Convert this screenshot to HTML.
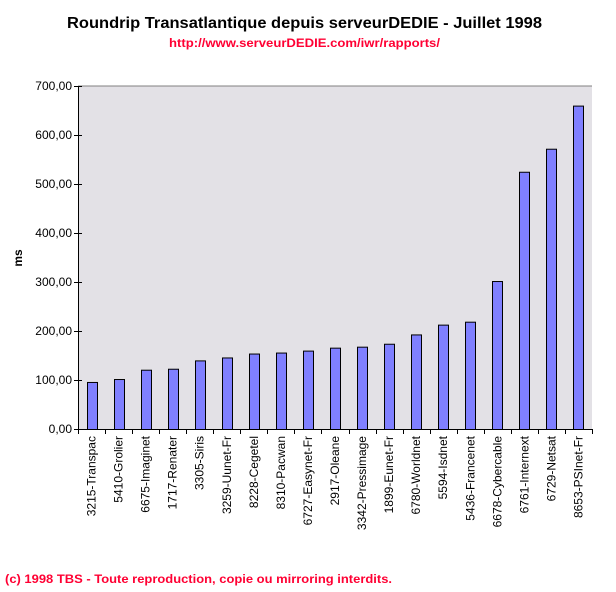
<!DOCTYPE html>
<html><head><meta charset="utf-8"><style>
html,body{margin:0;padding:0;background:#fff;}
svg{display:block;font-family:"Liberation Sans",Arial,sans-serif;}
</style></head><body>
<svg width="616" height="592" viewBox="0 0 616 592">
<text x="67" y="28" font-size="16" font-weight="bold" textLength="475" lengthAdjust="spacingAndGlyphs">Roundrip Transatlantique depuis serveurDEDIE - Juillet 1998</text>
<text x="169" y="47" font-size="12" font-weight="bold" fill="#ff0033" textLength="271" lengthAdjust="spacingAndGlyphs">http://www.serveurDEDIE.com/iwr/rapports/</text>
<rect x="78" y="86" width="514" height="343" fill="#e3e1e6"/>
<line x1="78" y1="86" x2="592" y2="86" stroke="#808080"/>
<line x1="78.5" y1="86" x2="78.5" y2="430" stroke="#000"/>
<line x1="78" y1="429.5" x2="592" y2="429.5" stroke="#000"/>
<g font-size="12" text-anchor="end" id="yl"></g>
<g id="bars"></g>
<text transform="translate(22,258) rotate(-90)" font-size="12" font-weight="bold" text-anchor="middle">ms</text>
<text x="5" y="583" font-size="12" font-weight="bold" fill="#ff0033" textLength="387" lengthAdjust="spacingAndGlyphs">(c) 1998 TBS - Toute reproduction, copie ou mirroring interdits.</text>
</svg>
<script>
var ns="http://www.w3.org/2000/svg",svg=document.querySelector("svg");
function el(n,a,t){var e=document.createElementNS(ns,n);for(var k in a)e.setAttribute(k,a[k]);if(t)e.textContent=t;svg.appendChild(e);return e;}
for(var i=0;i<=7;i++){var y=429-i*49;
el("line",{x1:74,y1:y+.5,x2:82,y2:y+.5,stroke:"#000"});
el("text",{x:72,y:y+4,"font-size":12,"text-anchor":"end"},(i*100)+",00");}
var d=[["3215-Transpac",96],["5410-Grolier",102],["6675-Imaginet",121],["1717-Renater",123],["3305-Siris",140],["3259-Uunet-Fr",146],["8228-Cegetel",154],["8310-Pacwan",156],["6727-Easynet-Fr",160],["2917-Oleane",166],["3342-Pressimage",168],["1899-Eunet-Fr",174],["6780-Worldnet",193],["5594-Isdnet",213],["5436-Francenet",219],["6678-Cybercable",302],["6761-Internext",525],["6729-Netsat",572],["8653-PSInet-Fr",660]];
var w=514/19;
for(var i=0;i<19;i++){var cx=78+w*(i+.5),h=d[i][1]*0.49;
el("rect",{x:Math.round(cx-5)+.5,y:429-h+.5,width:10,height:h,fill:"#8080ff",stroke:"#000","stroke-width":1});
var tx=Math.round(78+w*(i+1))+.5;el("line",{x1:tx,y1:429,x2:tx,y2:434,stroke:"#000"});
el("text",{transform:"translate("+(cx+4)+",436) rotate(-90)","font-size":12,"text-anchor":"end"},d[i][0]);}
el("line",{x1:78.5,y1:429,x2:78.5,y2:434,stroke:"#000"});
</script>
</body></html>
